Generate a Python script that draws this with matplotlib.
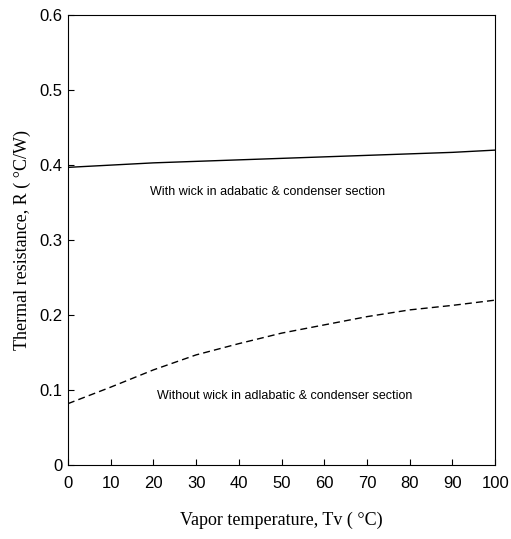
import matplotlib
matplotlib.use("Agg")
import matplotlib.pyplot as plt

tv = [0, 10, 20, 30, 40, 50, 60, 70, 80, 90, 100]
r_with_wick = [0.397, 0.400, 0.403, 0.405, 0.407, 0.409, 0.411, 0.413, 0.415, 0.417, 0.420]
r_without_wick = [0.082, 0.104, 0.127, 0.147, 0.162, 0.176, 0.187, 0.198, 0.207, 0.213, 0.220]
x_ticks = [0, 10, 20, 30, 40, 50, 60, 70, 80, 90, 100]
y_ticks = [0, 0.1, 0.2, 0.3, 0.4, 0.5, 0.6]
y_tick_labels = ["0", "0.1", "0.2", "0.3", "0.4", "0.5", "0.6"]

fig = plt.figure(figsize=(5.11, 5.39), dpi=100)
ax = fig.add_axes([0.133, 0.137, 0.836, 0.835])

ax.plot(tv, r_with_wick, color="black", lw=1.0)
ax.plot(tv, r_without_wick, color="black", lw=1.0, linestyle=(0, (5, 3)))

ax.set_xlim(0, 100)
ax.set_ylim(0, 0.6)
ax.set_xticks(x_ticks)
ax.set_yticks(y_ticks)
ax.set_yticklabels(y_tick_labels)
ax.tick_params(direction="in", length=4, width=0.8, labelsize=12, pad=4)
ax.tick_params(axis="x", pad=8)
for lab in ax.get_xticklabels() + ax.get_yticklabels():
    lab.set_family("Liberation Sans")
for s in ax.spines.values():
    s.set_linewidth(0.8)

ax.text(19.2, 0.364, "With wick in adabatic & condenser section",
        fontsize=9, family="Liberation Sans", va="center", ha="left")
ax.text(20.8, 0.092, "Without wick in adlabatic & condenser section",
        fontsize=9, family="Liberation Sans", va="center", ha="left")

ax.set_xlabel("Vapor temperature, Tv ( \u00b0C)", family="Liberation Serif",
              fontsize=13, labelpad=15)
ax.set_ylabel("Thermal resistance, R ( \u00b0C/W)", family="Liberation Serif",
              fontsize=13, labelpad=6)

fig.savefig("out.png", dpi=100)
